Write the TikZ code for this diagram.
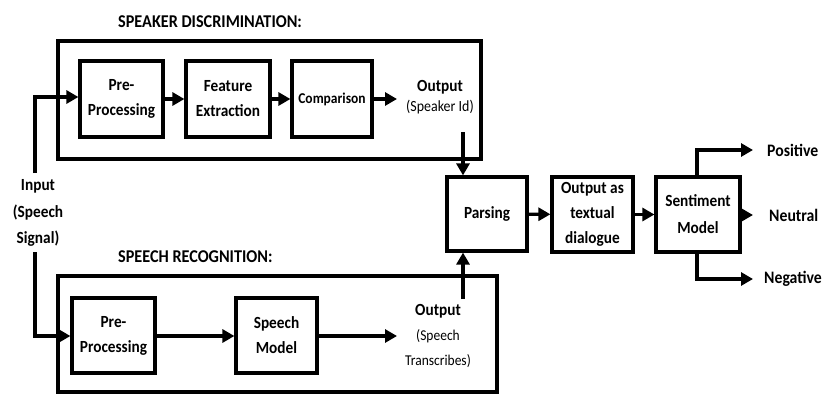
\documentclass[tikz,border=0pt]{standalone}
\usepackage{fontspec}
\setmainfont{Carlito}[FakeStretch=0.9]
\usetikzlibrary{arrows.meta,calc}
\begin{document}
\begin{tikzpicture}[x=1pt,y=-1pt,
  every node/.style={font=\bfseries\fontsize{17}{25}\selectfont, align=center},
  blk/.style={draw, line width=3.2pt, rectangle, inner sep=0pt},
  bigbox/.style={draw, line width=3.2pt},
  txt/.style={inner sep=0pt},
  arr/.style={line width=3.4pt, -{Triangle[length=12pt,width=13pt]}},
  ttl/.style={font=\bfseries\fontsize{18}{20}\selectfont, anchor=west, inner sep=0pt},
  res/.style={font=\bfseries\fontsize{17.5}{20}\selectfont, anchor=west, inner sep=0pt}
]
\useasboundingbox (0,0) rectangle (825,394);
% big boxes
\draw[bigbox] (58,41) rectangle (481,159);
\draw[bigbox] (58,276) rectangle (497,392);
\node[ttl] (t1) at (118,22) {SPEAKER DISCRIMINATION:};
\node[ttl] (t2) at (118,257) {SPEECH RECOGNITION:};
% top row
\node[blk, minimum width=83pt, minimum height=76pt] (pre1) at (121.5,99) {Pre-\\Processing};
\node[blk, minimum width=84pt, minimum height=76pt] (feat) at (228,99) {Feature\\Extraction};
\node[blk, minimum width=80pt, minimum height=76pt] (comp) at (332,99) {\fontsize{15}{18}\selectfont Comparison};
\node[txt] (out1) at (440,97) {Output\\[-5pt]{\mdseries\fontsize{15.5}{18}\selectfont (Speaker Id)}};
% bottom row
\node[blk, minimum width=83pt, minimum height=75pt] (pre2) at (113.5,335.5) {Pre-\\Processing};
\node[blk, minimum width=81pt, minimum height=75pt] (sm) at (276.5,335.5) {Speech\\Model};
\node[txt] (out2) at (438,336) {Output\\{\mdseries\fontsize{15}{24}\selectfont (Speech}\\{\mdseries\fontsize{15}{24}\selectfont Transcribes)}};
% input
\node[txt, font=\bfseries\fontsize{17}{26.5}\selectfont] (inp) at (38,213) {Input\\(Speech\\Signal)};
% right part
\node[blk, minimum width=80pt, minimum height=74pt] (parse) at (487,214) {Parsing};
\node[blk, minimum width=81pt, minimum height=75pt] (textd) at (592.5,214.5) {Output as\\textual\\dialogue};
\node[blk, minimum width=84pt, minimum height=75pt, font=\bfseries\fontsize{17}{27}\selectfont] (sent) at (698,214.5) {Sentiment\\Model};
\node[res] (pos) at (753,150) {\hspace{14pt}Positive};
\node[res] (neu) at (753,215) {\hspace{16pt}Neutral};
\node[res] (neg) at (753,279) {\hspace{11pt}Negative};
% coordinates
\coordinate (i1) at (35,173);
\coordinate (i2) at (35,252);
\coordinate (o1a) at (397,99);
\coordinate (o2a) at (397,336);
\coordinate (s1) at (463,132);
\coordinate (s2) at (463,299);
% arrows
\draw[arr] (i1) |- (pre1.west |- 0,97);
\draw[arr] (i2) |- (pre2.west |- 0,336);
\draw[arr] (pre1) -- (feat);
\draw[arr] (feat) -- (comp);
\draw[arr] (comp) -- (o1a);
\draw[arr] (pre2.east |- 0,336) -- (sm.west |- 0,336);
\draw[arr] (sm.east |- 0,336) -- (o2a);
\draw[arr] (s1) -- (s1 |- parse.north);
\draw[arr] (s2) -- (s2 |- parse.south);
\draw[arr] (parse) -- (textd);
\draw[arr] (textd) -- (sent);
\draw[arr] ([xshift=-1pt]sent.north) |- (pos.west);
\draw[arr] (sent.east |- neu.west) -- (neu.west);
\draw[arr] ([xshift=-1pt]sent.south) |- (neg.west);
\end{tikzpicture}
\end{document}
